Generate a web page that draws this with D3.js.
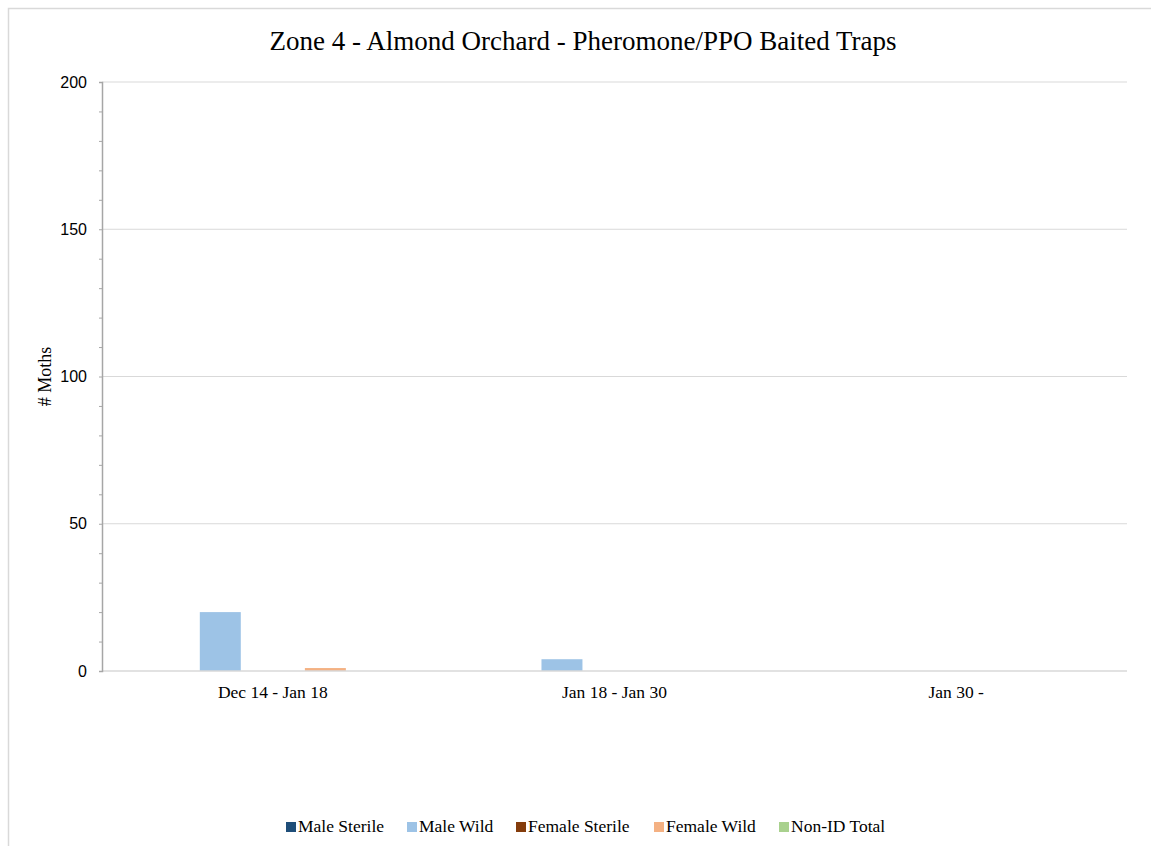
<!DOCTYPE html>
<html>
<head>
<meta charset="utf-8">
<script src="https://cdn.jsdelivr.net/npm/d3@7"></script>
<style>
  body { margin: 0; background: #fff; }
</style>
</head>
<body>
<div id="chart"></div>
<script>
var periods = ["Dec 14 - Jan 18", "Jan 18 - Jan 30", "Jan 30 -"];
var series_names = ["Male Sterile", "Male Wild", "Female Sterile", "Female Wild", "Non-ID Total"];
var series_colors = ["#1f4e79", "#9dc3e6", "#843c0c", "#f4b183", "#a9d18e"];
var male_sterile = [0, 0, 0];
var male_wild = [20, 4, 0];
var female_sterile = [0, 0, 0];
var female_wild = [1, 0, 0];
var non_id_total = [0, 0, 0];
var y_ticks = [0, 50, 100, 150, 200];

var full_width = 1151, full_height = 846;
var margin = {'top': 82, 'right': 24, 'bottom': 175, 'left': 102};
var width = full_width - margin.left - margin.right;
var height = full_height - margin.top - margin.bottom;

var all_values = [male_sterile, male_wild, female_sterile, female_wild, non_id_total];
var serif = "'Liberation Serif', 'Times New Roman', serif";

var svg_root = d3.select("#chart")
    .append("svg")
    .attr("width", full_width)
    .attr("height", full_height);

// outer chart border (runs off right/bottom edge like the screenshot)
svg_root.append("rect")
    .attr("x", 8.5).attr("y", 8.5)
    .attr("width", full_width + 10).attr("height", full_height + 10)
    .attr("fill", "none").attr("stroke", "#d9d9d9").attr("stroke-width", 1.5);

var svg = svg_root.append("g")
    .attr("transform", "translate(" + margin.left + "," + margin.top + ")");

var x0 = d3.scaleBand().domain(periods).range([0, width]).paddingInner(0.265).paddingOuter(0.1325);
var x1 = d3.scaleBand().domain(series_names).range([0, x0.bandwidth()]).paddingInner(0.22).paddingOuter(0);
var y = d3.scaleLinear().domain([0, 200]).range([height, 0]);

// gridlines
svg.selectAll(".grid")
    .data(y_ticks.filter(d => d > 0))
    .enter().append("line")
    .attr("x1", 0).attr("x2", width)
    .attr("y1", d => y(d)).attr("y2", d => y(d))
    .attr("stroke", "#d9d9d9").attr("stroke-width", 1.2);

// bars
var groups = svg.selectAll(".period")
    .data(periods)
    .enter().append("g")
    .attr("transform", d => "translate(" + x0(d) + ",0)");

groups.selectAll("rect")
    .data((p, i) => series_names.map((s, j) => ({series: s, value: all_values[j][i], color: series_colors[j]})))
    .enter().append("rect")
    .attr("x", d => x1(d.series))
    .attr("width", x1.bandwidth())
    .attr("y", d => y(d.value))
    .attr("height", d => height - y(d.value))
    .attr("fill", d => d.color);

// x axis line
svg.append("line")
    .attr("x1", 0).attr("x2", width)
    .attr("y1", height).attr("y2", height)
    .attr("stroke", "#d9d9d9").attr("stroke-width", 1.5);

// y axis
var y_axis = d3.axisLeft(y).tickValues(y_ticks).tickSize(0).tickPadding(15);
var y_minor = d3.axisLeft(y).tickValues(d3.range(0, 201, 10)).tickSize(3).tickFormat("");

svg.append("g").call(y_minor)
    .call(g => g.select(".domain").attr("stroke", "#a6a6a6").attr("stroke-width", 1.5))
    .call(g => g.selectAll(".tick line").attr("stroke", "#a6a6a6"));

svg.append("g").call(y_axis)
    .call(g => g.select(".domain").remove())
    .selectAll("text")
    .attr("font-family", "'Liberation Sans', Arial, sans-serif")
    .attr("font-size", "16px")
    .attr("fill", "#000");

// category labels
svg.selectAll(".xlab")
    .data(periods)
    .enter().append("text")
    .attr("x", d => x0(d) + x0.bandwidth() / 2)
    .attr("y", height + 27)
    .attr("text-anchor", "middle")
    .attr("font-family", serif)
    .attr("font-size", "17.5px")
    .text(d => d);

// titles
svg_root.append("text")
    .attr("x", 583).attr("y", 50)
    .attr("text-anchor", "middle")
    .attr("font-family", serif)
    .attr("font-size", "27px")
    .text("Zone 4 - Almond Orchard - Pheromone/PPO Baited Traps");

svg_root.append("text")
    .attr("transform", "translate(51," + (margin.top + height / 2) + ") rotate(-90)")
    .attr("text-anchor", "middle")
    .attr("font-family", serif)
    .attr("font-size", "18px")
    .text("# Moths");

// legend
var legend_x = [286, 407, 516, 654, 779];
var legend = svg_root.selectAll(".legend")
    .data(series_names)
    .enter().append("g")
    .attr("transform", (d, i) => "translate(" + legend_x[i] + ",832)");

legend.append("rect")
    .attr("x", 0).attr("y", -10)
    .attr("width", 10).attr("height", 10)
    .attr("fill", (d, i) => series_colors[i]);

legend.append("text")
    .attr("x", 12).attr("y", 0)
    .attr("font-family", serif)
    .attr("font-size", "17.5px")
    .text(d => d);
</script>
</body>
</html>
